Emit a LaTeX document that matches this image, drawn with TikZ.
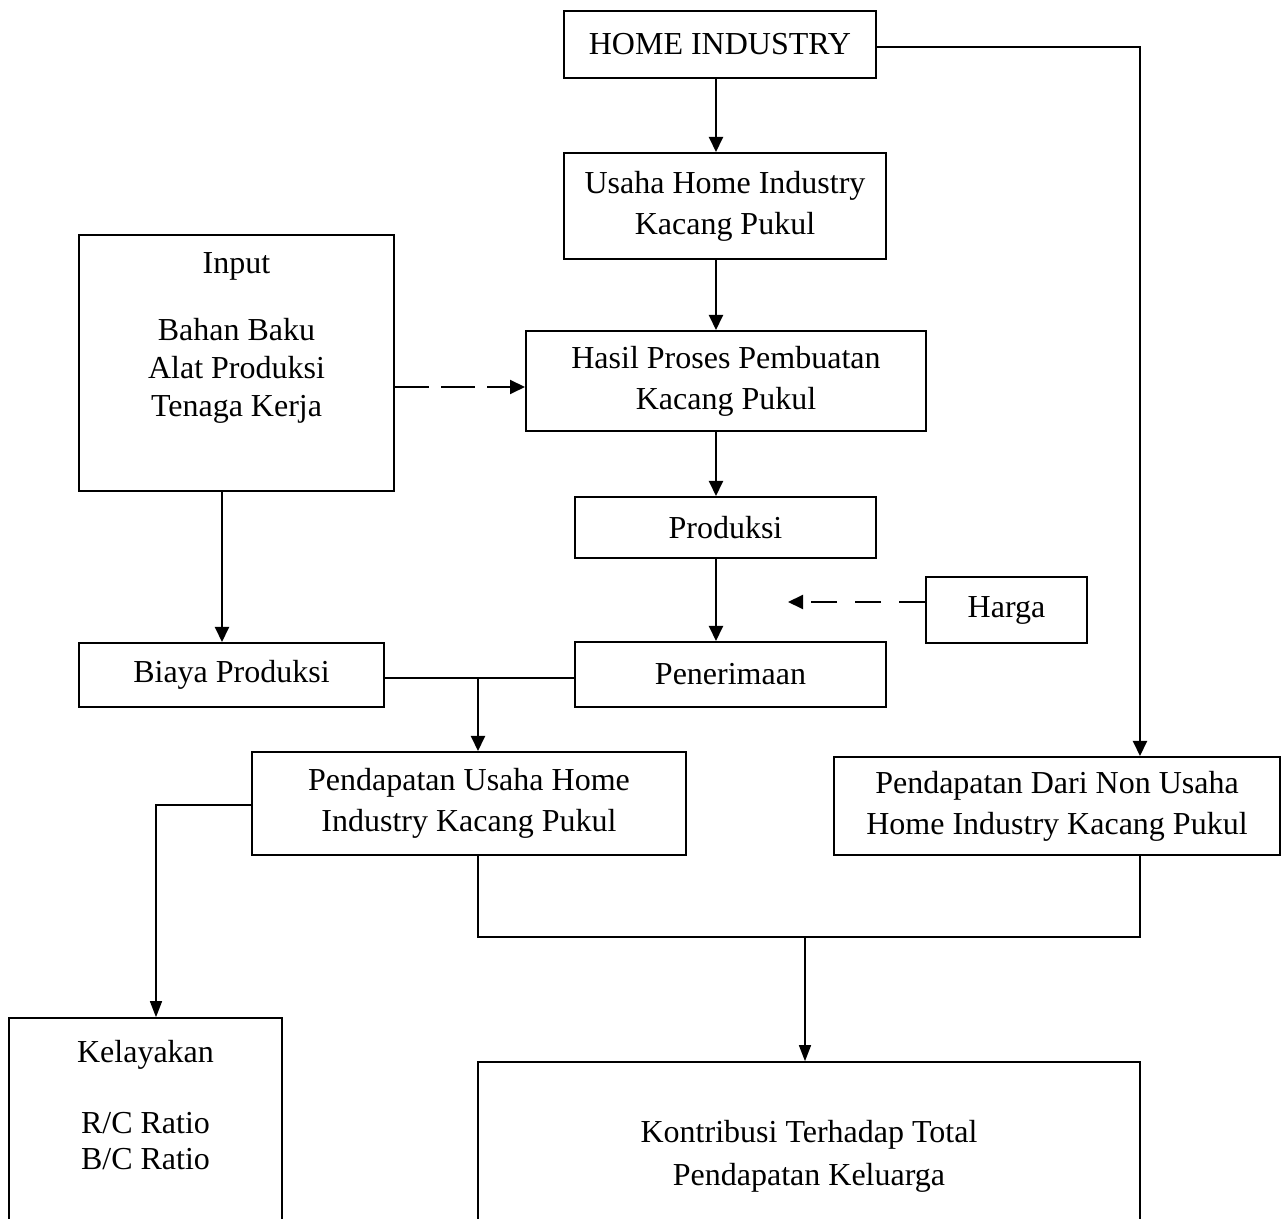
\documentclass[tikz,border=0pt]{standalone}
\usepackage{fontspec}
\setmainfont{Liberation Serif}
\usetikzlibrary{arrows.meta}
\begin{document}
\begin{tikzpicture}[x=0.5pt,y=-0.5pt,
  font=\fontsize{16}{20.5}\selectfont,
  box/.style={draw, line width=1pt, inner sep=0pt, align=center},
  txt/.style={inner sep=0pt, align=center},
  ln/.style={line width=1pt},
  thinln/.style={line width=0.7pt},
  arr/.style={line width=1pt, -{Triangle[length=7.5pt,width=7pt]}},
  thinarr/.style={line width=0.7pt, -{Triangle[length=8pt,width=6pt]}},
  dasharrA/.style={line width=1pt, dash pattern=on 17pt off 6pt, -{Triangle[length=7.5pt,width=7pt]}},
  dasharrB/.style={line width=1pt, dash pattern=on 13pt off 9pt, -{Triangle[length=7.5pt,width=7pt]}}]
\useasboundingbox (0,0) rectangle (1282,1219);
\clip (0,0) rectangle (1282,1219);

% boxes
\node[box, minimum width=156pt, minimum height=33.5pt] (home) at (720,44.5) {HOME INDUSTRY};
\node[box, minimum width=161pt, minimum height=53pt] (usaha) at (725,206) {Usaha Home Industry\\Kacang Pukul};
\node[box, minimum width=157.5pt, minimum height=128pt] (input) at (236.5,363) {};
\node[txt] (inputtitle) at (236.5,266) {Input};
\node[txt, font=\fontsize{16}{19}\selectfont] (inputlist) at (236.5,371) {Bahan Baku\\Alat Produksi\\Tenaga Kerja};
\node[box, minimum width=200pt, minimum height=50pt] (hasil) at (726,381) {Hasil Proses Pembuatan\\Kacang Pukul};
\node[box, minimum width=150.5pt, minimum height=30.5pt] (produksi) at (725.5,527.5) {Produksi};
\node[box, minimum width=80.5pt, minimum height=33pt] (harga) at (1006.5,610) {Harga};
\node[box, minimum width=155.5pt, minimum height=32.5pt] (penerimaan) at (730.5,674.5) {Penerimaan};
\node[box, minimum width=152.5pt, minimum height=32pt] (biaya) at (231.5,675) {Biaya Produksi};
\node[box, minimum width=217pt, minimum height=51.5pt] (pusaha) at (469,803.5) {Pendapatan Usaha Home\\Industry Kacang Pukul};
\node[box, minimum width=223pt, minimum height=49pt] (pnon) at (1057,806) {Pendapatan Dari Non Usaha\\Home Industry Kacang Pukul};
\node[box, line width=0.8pt, minimum width=136.5pt, minimum height=121pt] (kel) at (145.5,1139) {};
\node[txt] (keltitle) at (145.5,1055) {Kelayakan};
\node[txt, font=\fontsize{16}{18}\selectfont] (kellist) at (145.5,1141) {R/C Ratio\\B/C Ratio};
\node[box, line width=0.8pt, minimum width=331pt, minimum height=99pt] (kontri) at (809,1161) {};
\node[txt, font=\fontsize{16}{21.5}\selectfont] (kontritext) at (809,1156) {Kontribusi Terhadap Total\\Pendapatan Keluarga};

% helper coordinates
\coordinate (cx) at (716,0);
\coordinate (rx) at (1140,0);
\coordinate (bx) at (222,0);
\coordinate (dy) at (0,387);
\coordinate (hargaend) at (788,602);
\coordinate (jy) at (0,678);
\coordinate (j1) at (478,678);
\coordinate (ly) at (0,805);
\coordinate (lx) at (156,0);
\coordinate (bl) at (478,937);
\coordinate (br) at (1140,937);
\coordinate (j2) at (805,937);

% connectors
\draw[arr] (home.south -| cx) -- (usaha.north -| cx);
\draw[arr] (home.east |- 0,47) -| (rx |- pnon.north);
\draw[arr] (usaha.south -| cx) -- (hasil.north -| cx);
\draw[dasharrA] (input.east |- dy) -- (hasil.west |- dy);
\draw[arr] (hasil.south -| cx) -- (produksi.north -| cx);
\draw[arr] (produksi.south -| cx) -- (penerimaan.north -| cx);
\draw[dasharrB] (harga.west |- hargaend) -- (hargaend);
\draw[arr] (input.south -| bx) -- (biaya.north -| bx);
\draw[ln] (biaya.east |- jy) -- (penerimaan.west |- jy);
\draw[arr] (j1) -- (j1 |- pusaha.north);
\draw[thinarr] (pusaha.west |- ly) -| (lx |- kel.north);
\draw[thinln] (pusaha.south -| bl) -- (bl) -- (br) -- (pnon.south -| br);
\draw[thinarr] (j2) -- (j2 |- kontri.north);
\end{tikzpicture}
\end{document}
